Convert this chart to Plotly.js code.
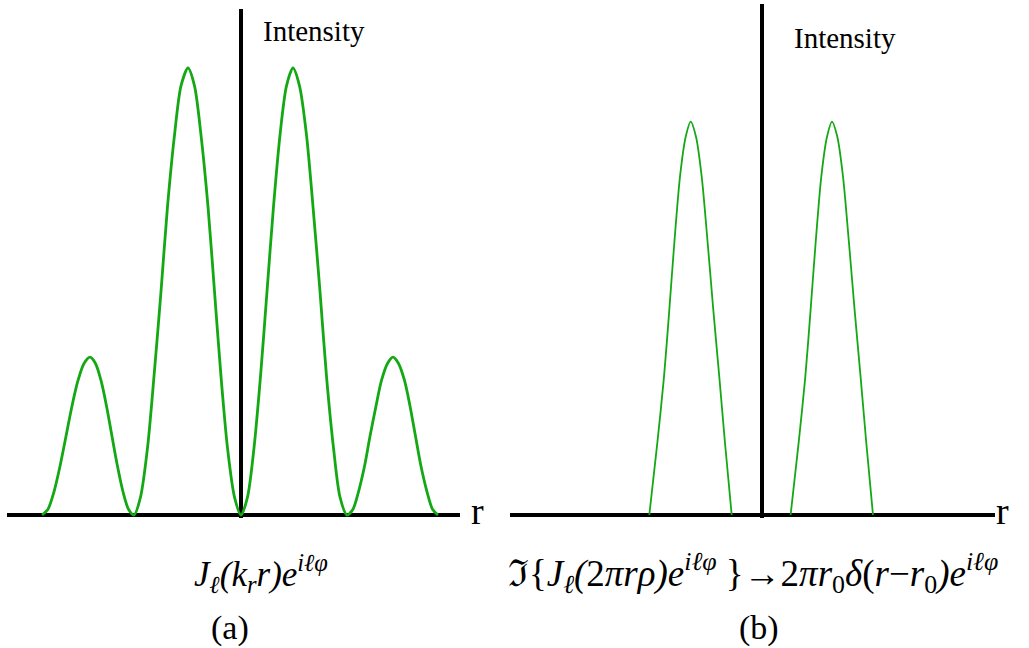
<!DOCTYPE html>
<html>
<head>
<meta charset="utf-8">
<script src="https://cdn.plot.ly/plotly-3.0.1.min.js"></script>
<style>html,body{margin:0;padding:0;background:#fff;}#chart{width:1029px;height:648px;}</style>
</head>
<body>
<div id="chart"></div>
<script>
// Panel (a): Bessel beam intensity profile
var rA = [-3.98,-3.86,-3.74,-3.62,-3.50,-3.38,-3.26,-3.14,-3.02,-2.91,-2.80,-2.69,-2.58,-2.47,-2.36,-2.25,
          -2.14,-2.01,-1.87,-1.74,-1.60,-1.47,-1.33,-1.20,-1.06,-0.93,-0.80,-0.66,-0.53,-0.40,-0.27,-0.13,
          0,0.13,0.26,0.39,0.52,0.65,0.78,0.91,1.04,1.17,1.31,1.44,1.58,1.71,1.85,1.98,
          2.12,2.24,2.35,2.47,2.58,2.70,2.81,2.93,3.04,3.15,3.27,3.38,3.49,3.60,3.72,3.83,3.94];
var intensityA = [0,0.013,0.052,0.109,0.176,0.244,0.301,0.339,0.353,0.339,0.301,0.244,0.176,0.109,0.052,0.013,
                  0,0.04,0.15,0.31,0.50,0.69,0.85,0.96,1.0,0.96,0.85,0.69,0.50,0.31,0.15,0.04,
                  0,0.04,0.15,0.31,0.50,0.69,0.85,0.96,1.0,0.96,0.85,0.69,0.50,0.31,0.15,0.04,
                  0,0.013,0.052,0.109,0.176,0.244,0.301,0.339,0.353,0.339,0.301,0.244,0.176,0.109,0.052,0.013,0];
// Panel (b): ring (delta) after Fourier transform, two bumps
var rB1 = [-2.254,-2.094,-1.96,-1.854,-1.754,-1.64,-1.526,-1.426,-1.32,-1.206,-1.086,-0.974,-0.854,-0.74,-0.606];
var intensityB1 = [0,0.161,0.309,0.459,0.608,0.757,0.846,0.880,0.846,0.757,0.608,0.459,0.309,0.161,0];
var rB2 = [0.572,0.732,0.866,0.972,1.072,1.186,1.30,1.40,1.506,1.62,1.74,1.852,1.972,2.086,2.22];
var intensityB2 = [0,0.161,0.309,0.459,0.608,0.757,0.846,0.880,0.846,0.757,0.608,0.459,0.309,0.161,0];

var green = '#14a814';
var serif = '"Liberation Serif", "Times New Roman", serif';

var traces = [
  {x: rA, y: intensityA, xaxis: 'x', yaxis: 'y', mode: 'lines', line: {color: green, width: 2.8, shape: 'spline', smoothing: 0.8}, hoverinfo: 'skip'},
  {x: rB1, y: intensityB1, xaxis: 'x2', yaxis: 'y2', mode: 'lines', line: {color: green, width: 1.8, shape: 'spline', smoothing: 0.8}, hoverinfo: 'skip'},
  {x: rB2, y: intensityB2, xaxis: 'x2', yaxis: 'y2', mode: 'lines', line: {color: green, width: 1.8, shape: 'spline', smoothing: 0.8}, hoverinfo: 'skip'}
];

function axX(domain, range) {
  return {domain: domain, range: range, showgrid: false, showticklabels: false, ticks: '',
          zeroline: true, zerolinecolor: '#000', zerolinewidth: 4, showline: false, fixedrange: true};
}
function axY(domain, range) {
  return {domain: domain, range: range, showgrid: false, showticklabels: false, ticks: '',
          zeroline: true, zerolinecolor: '#000', zerolinewidth: 4, showline: false, fixedrange: true};
}

function ann(text, x, y, size) {
  return {text: text, x: x, y: y, xref: 'paper', yref: 'paper', xanchor: 'center', yanchor: 'middle',
          showarrow: false, font: {family: serif, size: size, color: '#000'}};
}

var fA = '<i>J</i><sub><i>ℓ</i></sub><i>(k</i><sub><i>r</i></sub><i>r)e</i><sup><i>iℓφ</i></sup>';
var fB = 'ℑ{<i>J</i><sub><i>ℓ</i></sub><i>(</i>2<i>πrρ)e</i><sup><i>iℓφ</i></sup> }→2<i>πr</i><sub>0</sub><i>δ</i>(<i>r</i>−<i>r</i><sub>0</sub><i>)e</i><sup><i>iℓφ</i></sup>';

var layout = {
  width: 1029, height: 648,
  margin: {l: 0, r: 0, t: 0, b: 0},
  paper_bgcolor: '#fff', plot_bgcolor: 'rgba(0,0,0,0)',
  showlegend: false,
  xaxis: axX([7/1029, 460/1029], [-4.68, 4.38]),
  yaxis: axY([0.2011, 0.9861], [-0.006, 1.132]),
  xaxis2: Object.assign(axX([510/1029, 995/1029], [-5.04, 4.66]), {anchor: 'y2'}),
  yaxis2: Object.assign(axY([0.2011, 0.9938], [-0.006, 1.143]), {anchor: 'x2'}),
  annotations: [
    ann('Intensity', 0.3047, 0.952, 29),
    ann('Intensity', 0.8207, 0.941, 29),
    ann('r', 0.464, 0.2114, 38),
    ann('r', 0.9738, 0.2114, 38),
    ann(fA, 0.2536, 0.1157, 35),
    ann(fB, 0.7318, 0.1157, 37),
    ann('(a)', 0.2235, 0.0316, 34),
    ann('(b)', 0.7376, 0.0316, 34)
  ]
};

Plotly.newPlot('chart', traces, layout, {displayModeBar: false, staticPlot: true});
</script>
</body>
</html>
